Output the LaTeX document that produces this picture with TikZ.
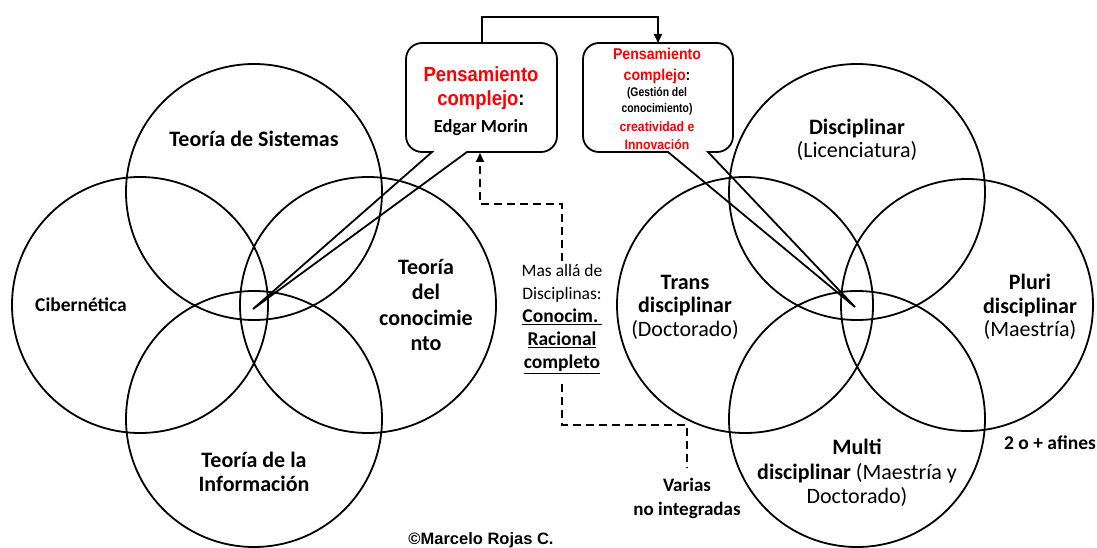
\documentclass[tikz,border=0pt]{standalone}
\usepackage{fontspec}
\setmainfont{Carlito}
\newfontfamily\arialf[FakeStretch=0.9]{Liberation Sans}
\newfontfamily\arialn[FakeStretch=0.83]{Liberation Sans}
\newfontfamily\arialc{Liberation Sans}
\usetikzlibrary{arrows.meta}
\definecolor{redtxt}{RGB}{255,0,0}
\begin{document}
\begin{tikzpicture}[x=1pt,y=-1pt,
  ring/.style={line width=1.8pt},
  boxline/.style={line width=1.8pt, line join=miter},
  lbl/.style={font=\fontsize{22}{24.5}\selectfont, align=center, inner sep=0pt},
  midlbl/.style={font=\fontsize{18}{23}\selectfont, align=center, inner sep=0pt},
  dashline/.style={line width=1.8pt, dash pattern=on 8pt off 5pt},
  tip/.style={-{Triangle[length=9pt,width=8pt]}}
]
\useasboundingbox (0,0) rectangle (1097,548);

% ---------- left cluster ----------
\draw[ring] (254,192) circle[radius=128];
\draw[ring] (140,305) circle[radius=128];
\draw[ring] (368,305) circle[radius=128];
\draw[ring] (254,419) circle[radius=128];

\node[lbl] (tsis) at (254,139) {\bfseries Teoría de Sistemas};
\node[lbl, font=\fontsize{19.5}{23}\selectfont\bfseries] (ciber) at (81,305) {Cibernética};
\node[lbl, font=\fontsize{22}{25.3}\selectfont\bfseries] (tcon) at (426,305) {Teoría\\del\\conocimie\\nto};
\node[lbl, font=\fontsize{22}{24.5}\selectfont\bfseries] (tinf) at (254,472) {Teoría de la\\Información};

% ---------- right cluster ----------
\draw[ring] (857,192) circle[radius=128];
\draw[ring] (745,305) circle[radius=128];
\draw[ring] (967,305) circle[radius=126];
\draw[ring] (857,419) circle[radius=128];

\node[lbl, font=\fontsize{22}{23}\selectfont] (disc) at (857,140) {\textbf{Disciplinar}\\(Licenciatura)};
\node[lbl, font=\fontsize{22}{23.5}\selectfont] (trans) at (685,307) {\textbf{Trans}\\\textbf{disciplinar}\\(Doctorado)};
\node[lbl, font=\fontsize{22}{23.5}\selectfont] (pluri) at (1030,307) {\textbf{Pluri}\\\textbf{disciplinar}\\(Maestría)};
\node[lbl, font=\fontsize{22}{24.5}\selectfont] (multi) at (857,473) {\textbf{Multi}\\\textbf{disciplinar} (Maestría y\\Doctorado)};
\node[lbl, font=\fontsize{19.5}{23}\selectfont\bfseries] (afines) at (1050,443) {2 o + afines};

% ---------- callout boxes ----------
\coordinate (ltip) at (253,309);
\coordinate (rtip) at (855,307);
\draw[boxline] (432,152) -- (422,152) arc(90:180:16) -- (406,59) arc(180:270:16)
  -- (541,43) arc(270:360:16) -- (557,136) arc(0:90:16) -- (467,152) -- (ltip) -- cycle;
\draw[boxline] (668,152) -- (599,152) arc(90:180:16) -- (583,59) arc(180:270:16)
  -- (717,43) arc(270:360:16) -- (733,136) arc(0:90:16) -- (708,152) -- (rtip) -- cycle;

\node[inner sep=0pt, font=\arialf\fontsize{20.5}{22}\selectfont\bfseries, text=redtxt] (lb1) at (481,74) {Pensamiento};
\node[inner sep=0pt, font=\arialf\fontsize{20.5}{22}\selectfont\bfseries, text=redtxt] (lb2) at (481,100) {complejo\textcolor{black}{:}};
\node[inner sep=0pt, font=\fontsize{18.5}{22}\selectfont\bfseries] (lb3) at (481,128) {Edgar Morin};

\node[inner sep=0pt, font=\arialf\fontsize{15.7}{18}\selectfont\bfseries, text=redtxt] (rb1) at (657,54) {Pensamiento};
\node[inner sep=0pt, font=\arialf\fontsize{15.7}{18}\selectfont\bfseries, text=redtxt] (rb2) at (657,76) {complejo\textcolor{black}{:}};
\node[inner sep=0pt, font=\arialn\fontsize{12.5}{14}\selectfont\bfseries] (rb3) at (657,93) {(Gestión del};
\node[inner sep=0pt, font=\arialn\fontsize{12.5}{14}\selectfont\bfseries] (rb4) at (657,109) {conocimiento)};
\node[inner sep=0pt, font=\arialf\fontsize{13.6}{16}\selectfont\bfseries, text=redtxt] (rb5) at (657,127) {creatividad e};
\node[inner sep=0pt, font=\arialf\fontsize{13.6}{16}\selectfont\bfseries, text=redtxt] (rb6) at (657,145) {Innovación};

% top connector
\coordinate (lboxtop) at (482,43);
\coordinate (rboxtop) at (658,43);
\draw[line width=1.8pt, tip] (lboxtop) -- (482,17) -| (rboxtop);

% ---------- middle text and dashed connectors ----------
\node[midlbl] (mas) at (562,319) {\fontsize{17.5}{23}\selectfont Mas allá de\\\fontsize{17.5}{23}\selectfont Disciplinas:\\\fontsize{19.5}{23}\selectfont\bfseries\underline{Conocim.\,}\\\fontsize{19.5}{23}\selectfont\bfseries\underline{Racional}\\\fontsize{19.5}{23}\selectfont\bfseries\underline{completo}};
\coordinate (lboxbot) at (480,153);
\coordinate (mastop) at (562,261);
\coordinate (masbot) at (562,384);
\coordinate (variastop) at (687,468);
\draw[dashline, tip] (mastop) -- (562,204) -| (lboxbot);
\draw[dashline] (masbot) -- (562,425) -| (variastop);

\node[lbl, font=\fontsize{19}{24}\selectfont\bfseries] (varias) at (687,498) {Varias\\no integradas};

\node[inner sep=0pt, font=\arialc\fontsize{16.5}{18}\selectfont\bfseries] (copy) at (481,540) {©Marcelo Rojas C.};
\end{tikzpicture}
\end{document}
